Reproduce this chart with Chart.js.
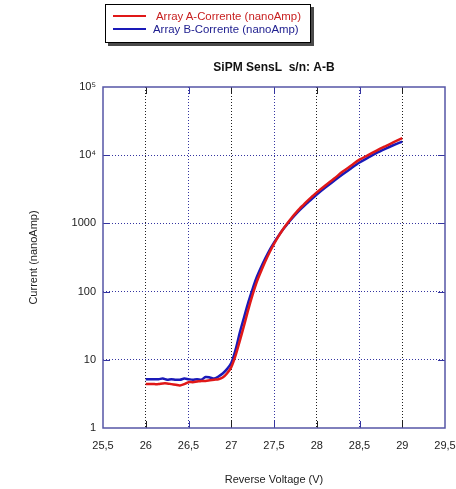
<!DOCTYPE html>
<html>
<head>
<meta charset="utf-8">
<script src="https://cdn.jsdelivr.net/npm/chart.js@4/dist/chart.umd.min.js"></script>
<style>
  html, body { margin: 0; padding: 0; background: #fff; }
  #wrap { position: relative; width: 456px; height: 489px; }
  #legend {
    position: absolute; left: 105px; top: 4px; width: 204px; height: 37px;
    border: 1px solid #000; background: #fff; box-shadow: 3px 3px 0 #4a4a4a;
    font-family: "Liberation Sans", Arial, sans-serif; font-size: 11.4px;
  }
  .row { position: absolute; left: 0; height: 14px; white-space: nowrap; }
  .swatch { position: absolute; left: 7px; top: 6px; width: 33px; height: 2px; }
  .lbl { position: absolute; top: 0; line-height: 14px; }
</style>
</head>
<body>
<div id="wrap">
  <canvas id="c" width="456" height="489"></canvas>
  <div id="legend"></div>
</div>
<script>
// Reverse voltage sweep (V)
const volts = [
  26.00, 26.05, 26.10, 26.15, 26.20, 26.25, 26.30, 26.35, 26.40, 26.45,
  26.50, 26.55, 26.60, 26.65, 26.70, 26.75, 26.80, 26.85, 26.90, 26.95,
  27.00, 27.05, 27.10, 27.15, 27.20, 27.25, 27.30, 27.35, 27.40, 27.45,
  27.50, 27.55, 27.60, 27.65, 27.70, 27.75, 27.80, 27.85, 27.90, 27.95,
  28.00, 28.10, 28.20, 28.30, 28.40, 28.50, 28.60, 28.70, 28.80, 28.90, 29.00
];

// Array A current (nA)
const currentA = [
  4.4, 4.4, 4.4, 4.4, 4.5, 4.5, 4.4, 4.3, 4.2, 4.4,
  4.7, 4.7, 4.8, 4.9, 4.9, 5.0, 5.1, 5.2, 5.5, 6.3,
  7.8, 11.5, 19, 32, 55, 90, 140, 200, 280, 380,
  500, 640, 800, 980, 1180, 1400, 1650, 1900, 2200, 2500,
  2850, 3600, 4500, 5700, 7000, 8600, 10000, 11700, 13500, 15500, 17800
];

// Array B current (nA)
const currentB = [
  5.2, 5.2, 5.2, 5.2, 5.3, 5.1, 5.2, 5.1, 5.1, 5.3,
  5.2, 5.1, 5.2, 5.1, 5.6, 5.5, 5.3, 5.7, 6.3, 7.3,
  9.0, 14, 25, 42, 70, 110, 165, 230, 310, 410,
  520, 650, 800, 960, 1140, 1340, 1560, 1800, 2050, 2330,
  2650, 3350, 4200, 5200, 6400, 7800, 9200, 10800, 12400, 14100, 15800
];

const seriesLabels = ['Array A-Corrente (nanoAmp)', 'Array B-Corrente (nanoAmp)'];
const seriesColors = ['#e01818', '#1a1ab8'];
const legendTextColors = ['#c82020', '#202090'];

const xTickValues = [25.5, 26, 26.5, 27, 27.5, 28, 28.5, 29, 29.5];
const xTickLabels = ['25,5', '26', '26,5', '27', '27,5', '28', '28,5', '29', '29,5'];
const yTickValues = [1, 10, 100, 1000, 10000, 100000];
const yTickLabels = ['1', '10', '100', '1000', '10\u2074', '10\u2075'];

const titleText = 'SiPM SensL  s/n: A-B';
const xTitle = 'Reverse Voltage (V)';
const yTitle = 'Current (nanoAmp)';

const frameColor = '#5656a6';
const gridBlue = '#3434a0';
const gridBlack = '#202020';
const textColor = '#222';
const FONT = '"Liberation Sans", Arial, sans-serif';

function toPoints(ys) { return volts.map((v, i) => ({ x: v, y: ys[i] })); }

function xGridColor(v) { return Number.isInteger(v) ? gridBlack : gridBlue; }

// frame, inward tick marks and the chart title
const framePlugin = {
  id: 'frame',
  afterDraw(chart) {
    const { ctx, chartArea: a, scales } = chart;
    ctx.save();
    const tl = 7;
    ctx.lineWidth = 1;
    xTickValues.slice(1, -1).forEach(v => {
      const px = Math.round(scales.x.getPixelForValue(v)) + 0.5;
      ctx.strokeStyle = xGridColor(v);
      ctx.beginPath();
      ctx.moveTo(px, a.bottom); ctx.lineTo(px, a.bottom - tl);
      ctx.moveTo(px, a.top); ctx.lineTo(px, a.top + tl);
      ctx.stroke();
    });
    yTickValues.slice(1, -1).forEach(v => {
      const py = Math.round(scales.y.getPixelForValue(v)) + 0.5;
      ctx.strokeStyle = gridBlue;
      ctx.beginPath();
      ctx.moveTo(a.left, py); ctx.lineTo(a.left + tl, py);
      ctx.moveTo(a.right, py); ctx.lineTo(a.right - tl, py);
      ctx.stroke();
    });
    ctx.strokeStyle = frameColor;
    ctx.lineWidth = 1.5;
    ctx.strokeRect(a.left, a.top, a.right - a.left, a.bottom - a.top);

    ctx.fillStyle = '#111';
    ctx.font = 'bold 12px ' + FONT;
    ctx.textAlign = 'center';
    ctx.textBaseline = 'alphabetic';
    ctx.fillText(titleText, (a.left + a.right) / 2, 71);
    ctx.restore();
  }
};

const chart = new Chart(document.getElementById('c'), {
  type: 'line',
  data: {
    datasets: [0, 1].map(i => ({
      label: seriesLabels[i],
      data: toPoints(i === 0 ? currentA : currentB),
      borderColor: seriesColors[i],
      backgroundColor: seriesColors[i],
      borderWidth: 2.5,
      pointRadius: 0,
      tension: 0.3,
      fill: false
    }))
  },
  options: {
    responsive: false,
    animation: false,
    events: [],
    layout: { padding: { left: 0, top: 87, right: 11, bottom: 0 } },
    plugins: { legend: { display: false }, tooltip: { enabled: false }, title: { display: false } },
    scales: {
      x: {
        type: 'linear',
        min: 25.5, max: 29.5,
        afterBuildTicks(s) { s.ticks = xTickValues.map(v => ({ value: v })); },
        afterFit(s) { s.height = 61; s.paddingLeft = 0; s.paddingRight = 0; },
        ticks: {
          autoSkip: false, maxRotation: 0, padding: 11,
          color: textColor, font: { family: FONT, size: 11 },
          callback: (v) => xTickLabels[xTickValues.indexOf(v)]
        },
        grid: {
          drawTicks: false,
          color: (c) => xGridColor(c.tick.value),
          lineWidth: (c) => (c.index === 0 || c.index === xTickValues.length - 1) ? 0 : 1
        },
        border: { display: false, dash: [1, 2] },
        title: {
          display: true, text: xTitle, color: textColor,
          font: { family: FONT, size: 11 }, padding: { top: 0, bottom: 2 }
        }
      },
      y: {
        type: 'logarithmic',
        min: 1, max: 100000,
        afterBuildTicks(s) { s.ticks = yTickValues.map(v => ({ value: v })); },
        afterFit(s) { s.width = 103; s.paddingTop = 0; s.paddingBottom = 0; },
        ticks: {
          autoSkip: false, padding: 7,
          color: textColor, font: { family: FONT, size: 11 },
          callback: (v) => yTickLabels[yTickValues.indexOf(v)]
        },
        grid: {
          drawTicks: false,
          color: gridBlue,
          lineWidth: (c) => (c.index === 0 || c.index === yTickValues.length - 1) ? 0 : 1
        },
        border: { display: false, dash: [1, 2] },
        title: {
          display: true, text: yTitle, color: textColor,
          font: { family: FONT, size: 11 }, padding: { top: 27, bottom: 0 }
        }
      }
    }
  },
  plugins: [framePlugin]
});

// legend box built from the datasets
const legend = document.getElementById('legend');
chart.data.datasets.forEach((ds, i) => {
  const row = document.createElement('div');
  row.className = 'row';
  row.style.top = (4 + i * 13) + 'px';
  row.style.width = '100%';
  const sw = document.createElement('div');
  sw.className = 'swatch';
  sw.style.background = ds.borderColor;
  const lbl = document.createElement('div');
  lbl.className = 'lbl';
  lbl.style.left = (i === 0 ? 50 : 47) + 'px';
  lbl.style.color = legendTextColors[i];
  lbl.textContent = ds.label;
  row.appendChild(sw); row.appendChild(lbl);
  legend.appendChild(row);
});
</script>
</body>
</html>
